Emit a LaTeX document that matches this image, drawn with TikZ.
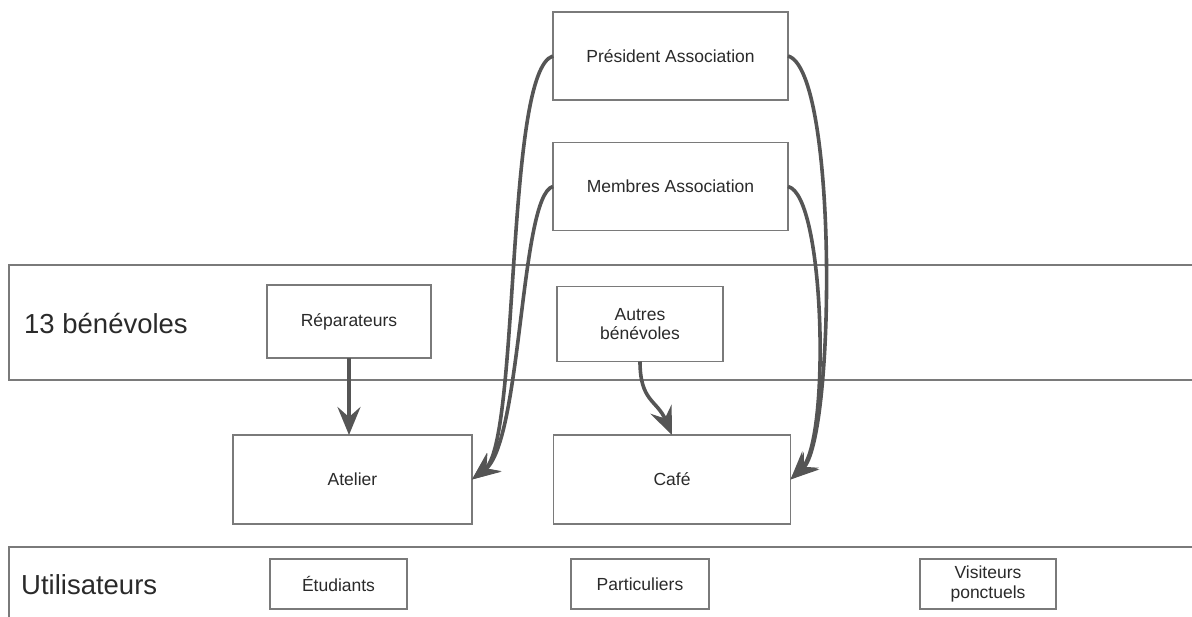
\documentclass[tikz,border=0pt]{standalone}
\usepackage{fontspec}
\setmainfont{Liberation Sans}
\usetikzlibrary{arrows.meta}
\definecolor{boxline}{HTML}{7A7A7A}
\definecolor{arrowcol}{HTML}{555555}
\definecolor{txt}{HTML}{2A2A2A}
\tikzset{
  box/.style={draw=boxline, line width=1.4pt, fill=white, inner sep=0pt, outer sep=0pt,
    align=center, text=txt, font=\fontsize{17.5}{19.5}\selectfont},
  lane/.style={draw=boxline, line width=1.3pt},
  lanelabel/.style={anchor=west, text=txt, inner sep=0pt, font=\fontsize{27.5}{31}\selectfont},
  flow/.style={draw=arrowcol, line width=3.6pt, -{Stealth[length=28pt,width=23pt,inset=10pt]}},
}
\begin{document}
\begin{tikzpicture}[x=1pt,y=-1pt]
\useasboundingbox (0,0) rectangle (1192,617);
\clip (0,0) rectangle (1192,617);
% lanes
\draw[lane] (9,265) rectangle (1210,380);
\draw[lane] (9,547) rectangle (1210,640);
\node[lanelabel] (lbenev) at (24,324) {13 bénévoles};
\node[lanelabel] (luser) at (21,585) {Utilisateurs};
% boxes
\node[box, minimum width=235pt, minimum height=88pt] (pres) at (670.5,56) {Président Association};
\node[box, minimum width=235pt, minimum height=88pt] (memb) at (670.5,186.5) {Membres Association};
\node[box, minimum width=164pt, minimum height=73pt] (rep) at (349,321.5) {Réparateurs};
\node[box, minimum width=166pt, minimum height=75pt] (autres) at (640,324) {Autres\\bénévoles};
\node[box, minimum width=239pt, minimum height=89pt] (atel) at (352.5,479.5) {Atelier};
\node[box, minimum width=237pt, minimum height=89pt] (cafe) at (672,479.5) {Café};
\node[box, minimum width=137pt, minimum height=50pt] (etud) at (338.5,584) {Étudiants};
\node[box, minimum width=138pt, minimum height=50pt] (part) at (640,584) {Particuliers};
\node[box, minimum width=136pt, minimum height=50pt] (visit) at (988,584) {Visiteurs\\ponctuels};
% arrows
\draw[flow] (rep.south) -- (rep.south |- atel.north);
\draw[flow] (autres.south) .. controls +(0,40) and +(-15,-35) .. (cafe.north);
\draw[flow] (pres.west) .. controls +(-48,14) and +(48,-38) .. (atel.east);
\draw[flow] (memb.west) .. controls +(-33,8.5) and +(50,-38) .. (atel.east);
\draw[flow] (pres.east) .. controls +(50,14) and +(45,-40) .. (cafe.east);
\draw[flow] (memb.east) .. controls +(37,8.5) and +(40,-40) .. (cafe.east);
\end{tikzpicture}
\end{document}
